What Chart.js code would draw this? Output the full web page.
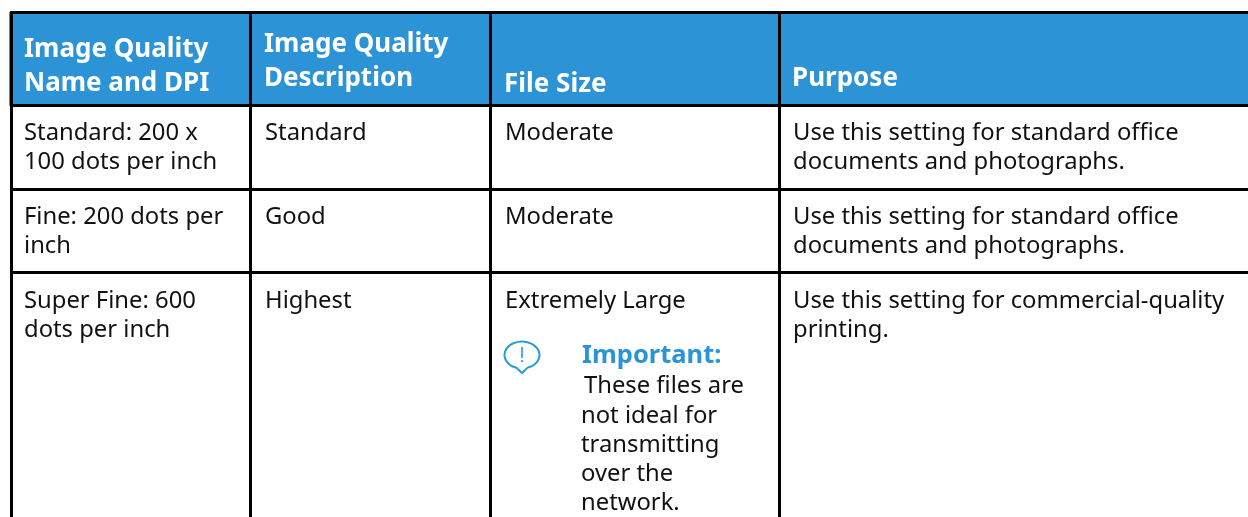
<!DOCTYPE html>
<html>
<head>
<meta charset="utf-8">
<style>
  html, body { margin: 0; padding: 0; background: #fff; }
  canvas { display: block; }
</style>
<script src="https://cdn.jsdelivr.net/npm/chart.js@4"></script>
</head>
<body>
<canvas id="table-chart" width="1248" height="517"></canvas>
<script>
// Table, one array per cell of lines
const headerCells = [
    ['Image Quality', 'Name and DPI'],
    ['Image Quality', 'Description'],
    ['File Size'],
    ['Purpose']
];
const names = [
    ['Standard: 200 x', '100 dots per inch'],
    ['Fine: 200 dots per', 'inch'],
    ['Super Fine: 600', 'dots per inch']
];
const descriptions = [['Standard'], ['Good'], ['Highest']];
const fileSizes = [['Moderate'], ['Moderate'], ['Extremely Large']];
const purposes = [
    ['Use this setting for standard office', 'documents and photographs.'],
    ['Use this setting for standard office', 'documents and photographs.'],
    ['Use this setting for commercial-quality', 'printing.']
];
const noteTitle = 'Important:';
const noteLines = ['These files are', 'not ideal for', 'transmitting', 'over the', 'network.'];

// Rules of the table, in picture units
const colEdges = [11.5, 250.5, 490.5, 779.5];
const rowEdges = [12.5, 105.5, 189.5, 272.5];

const BLUE = '#2b93d6';
const BODY_FONT = '23.8px "Noto Sans"';
const BOLD_FONT = 'bold 26px "Noto Sans"';
const NOTE_FONT = 'bold 25.5px "Noto Sans"';

const textPlugin = {
    id: 'tableText',
    afterDatasetsDraw(chart) {
        const { ctx, scales: { x, y } } = chart;

        const put = (lines, px, py, step, font, color) => {
            ctx.font = font;
            ctx.fillStyle = color;
            lines.forEach((line, i) => ctx.fillText(line, x.getPixelForValue(px), y.getPixelForValue(py + i * step)));
        };

        ctx.save();
        ctx.textAlign = 'left';
        ctx.textBaseline = 'alphabetic';

        // header, the baselines differ per column in the original
        put(headerCells[0], 24, 57, 34, BOLD_FONT, '#fff');
        put(headerCells[1], 264, 52, 34, BOLD_FONT, '#fff');
        put(headerCells[2], 504, 92, 34, BOLD_FONT, '#fff');
        put(headerCells[3], 792, 86, 34, BOLD_FONT, '#fff');

        const rowBase = [140, 224, 308];
        rowBase.forEach((base, r) => {
            put(names[r], 24, base, 29, BODY_FONT, '#111');
            put(descriptions[r], 265, base, 29, BODY_FONT, '#111');
            put(fileSizes[r], 505, base, 29, BODY_FONT, '#111');
            put(purposes[r], 793, base, 29, BODY_FONT, '#111');
        });

        put([noteTitle], 582, 363, 29, NOTE_FONT, BLUE);
        put(noteLines.slice(0, 1), 584, 393, 29, BODY_FONT, '#111');
        put(noteLines.slice(1), 581, 423, 29, BODY_FONT, '#111');

        // note icon: speech bubble with an exclamation mark
        const cx = x.getPixelForValue(522);
        const cy = y.getPixelForValue(355);
        ctx.strokeStyle = '#2b9ad9';
        ctx.fillStyle = '#2b9ad9';
        ctx.lineWidth = 2;
        ctx.beginPath();
        ctx.ellipse(cx, cy, 17.5, 13.5, 0, Math.PI * 0.6, Math.PI * 0.4);
        ctx.lineTo(cx, cy + 18);
        ctx.closePath();
        ctx.stroke();
        ctx.fillRect(cx - 0.8, cy - 8, 1.6, 11);
        ctx.fillRect(cx - 0.9, cy + 5, 1.8, 2);
        ctx.restore();
    }
};

new Chart(document.getElementById('table-chart'), {
    type: 'scatter',
    data: {
        datasets: [
            {
                data: [{ x: 10, y: rowEdges[0] }, { x: 1248, y: rowEdges[0] }],
                showLine: true, borderWidth: 0, pointRadius: 0,
                backgroundColor: BLUE, fill: '+1'
            },
            {
                data: [{ x: 10, y: rowEdges[1] }, { x: 1248, y: rowEdges[1] }],
                showLine: true, borderWidth: 0, pointRadius: 0
            },
            {
                data: [{ x: 9.5, y: rowEdges[0] }, { x: 9.5, y: rowEdges[1] }],
                showLine: true, borderColor: BLUE, borderWidth: 1, pointRadius: 0, clip: false
            }
        ]
    },
    plugins: [textPlugin],
    options: {
        responsive: false,
        animation: false,
        layout: { padding: { left: 10, top: 11, right: 0, bottom: 0 } },
        scales: {
            x: {
                type: 'linear',
                min: 10,
                max: 1248,
                afterBuildTicks(axis) { axis.ticks = colEdges.map(value => ({ value })); },
                ticks: { display: false },
                border: { display: false },
                grid: { color: '#000', lineWidth: 3, drawTicks: false, z: 1 }
            },
            y: {
                type: 'linear',
                reverse: true,
                min: 11,
                max: 517,
                afterBuildTicks(axis) { axis.ticks = rowEdges.map(value => ({ value })); },
                ticks: { display: false },
                border: { display: false },
                grid: { color: '#000', lineWidth: 3, drawTicks: false, z: 1 }
            }
        },
        plugins: {
            legend: { display: false },
            tooltip: { enabled: false }
        }
    }
});
</script>
</body>
</html>
